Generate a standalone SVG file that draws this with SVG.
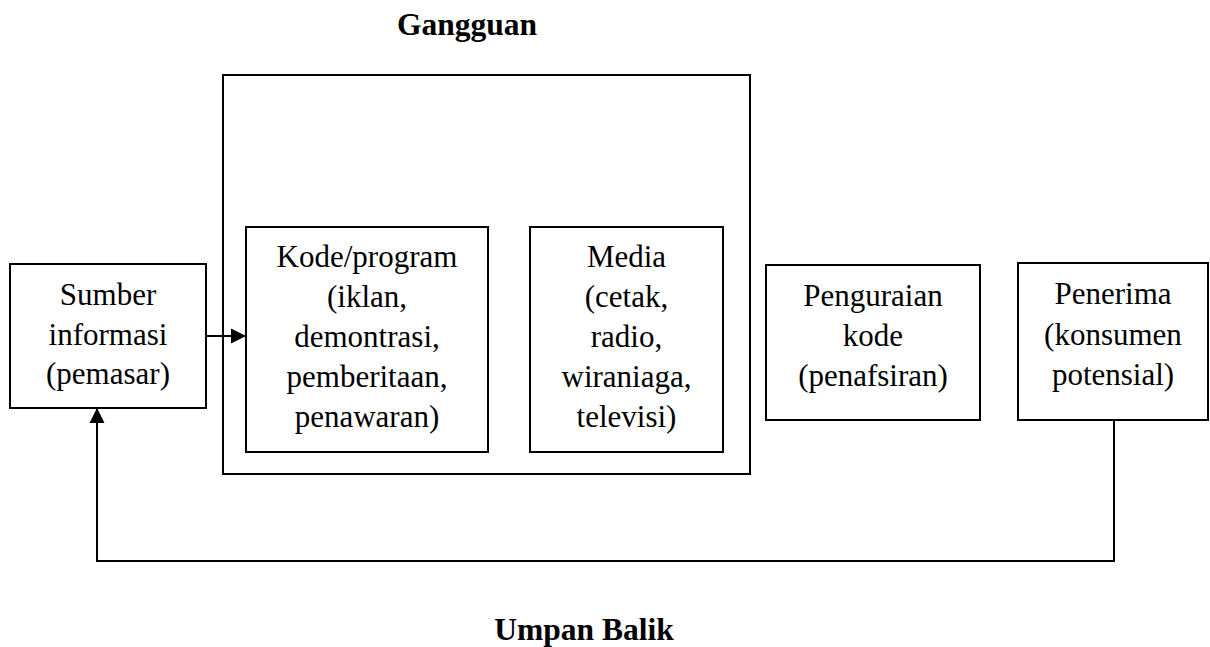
<svg xmlns="http://www.w3.org/2000/svg" width="1210" height="647" viewBox="0 0 1210 647">
<style>
.box{fill:#fff;stroke:#000;stroke-width:2}
.t{font-family:"Liberation Serif","Times New Roman",serif;font-size:31px;fill:#000;text-anchor:middle}
.b{font-family:"Liberation Serif","Times New Roman",serif;font-size:31.5px;font-weight:bold;fill:#000;text-anchor:middle}
.c{fill:none;stroke:#000;stroke-width:2}
</style>
<defs>
<marker id="ah" markerUnits="userSpaceOnUse" markerWidth="16" markerHeight="16" viewBox="0 0 16 16" refX="15" refY="8" orient="auto">
<path d="M0,0.5 L15,8 L0,15.5 Z" fill="#000"/>
</marker>
</defs>
<rect width="1210" height="647" fill="#fff"/>
<text class="b" x="467" y="35">Gangguan</text>
<text class="b" x="584" y="640">Umpan Balik</text>
<g id="gangguan-frame">
<rect class="box" x="223" y="75" width="527" height="399"/>
</g>
<g id="sumber">
<rect class="box" x="10" y="264" width="196" height="144"/>
<text class="t" x="108" y="305">Sumber</text>
<text class="t" x="108" y="345">informasi</text>
<text class="t" x="108" y="384">(pemasar)</text>
</g>
<g id="kode">
<rect class="box" x="246" y="227" width="242" height="225"/>
<text class="t" x="367" y="267">Kode/program</text>
<text class="t" x="367" y="307">(iklan,</text>
<text class="t" x="367" y="347">demontrasi,</text>
<text class="t" x="367" y="387">pemberitaan,</text>
<text class="t" x="367" y="427">penawaran)</text>
</g>
<g id="media">
<rect class="box" x="530" y="227" width="193" height="225"/>
<text class="t" x="626.5" y="267">Media</text>
<text class="t" x="626.5" y="307">(cetak,</text>
<text class="t" x="626.5" y="347">radio,</text>
<text class="t" x="626.5" y="387">wiraniaga,</text>
<text class="t" x="626.5" y="427">televisi)</text>
</g>
<g id="penguraian">
<rect class="box" x="766" y="265" width="214" height="155"/>
<text class="t" x="873" y="306">Penguraian</text>
<text class="t" x="873" y="346">kode</text>
<text class="t" x="873" y="386">(penafsiran)</text>
</g>
<g id="penerima">
<rect class="box" x="1018" y="263" width="190" height="157"/>
<text class="t" x="1113" y="304">Penerima</text>
<text class="t" x="1113" y="345">(konsumen</text>
<text class="t" x="1113" y="385">potensial)</text>
</g>
<g id="connectors">
<path class="c" d="M206,336 L246,336" marker-end="url(#ah)"/>
<path class="c" d="M1114,420 L1114,561 L97,561 L97,408" marker-end="url(#ah)"/>
</g>
</svg>
